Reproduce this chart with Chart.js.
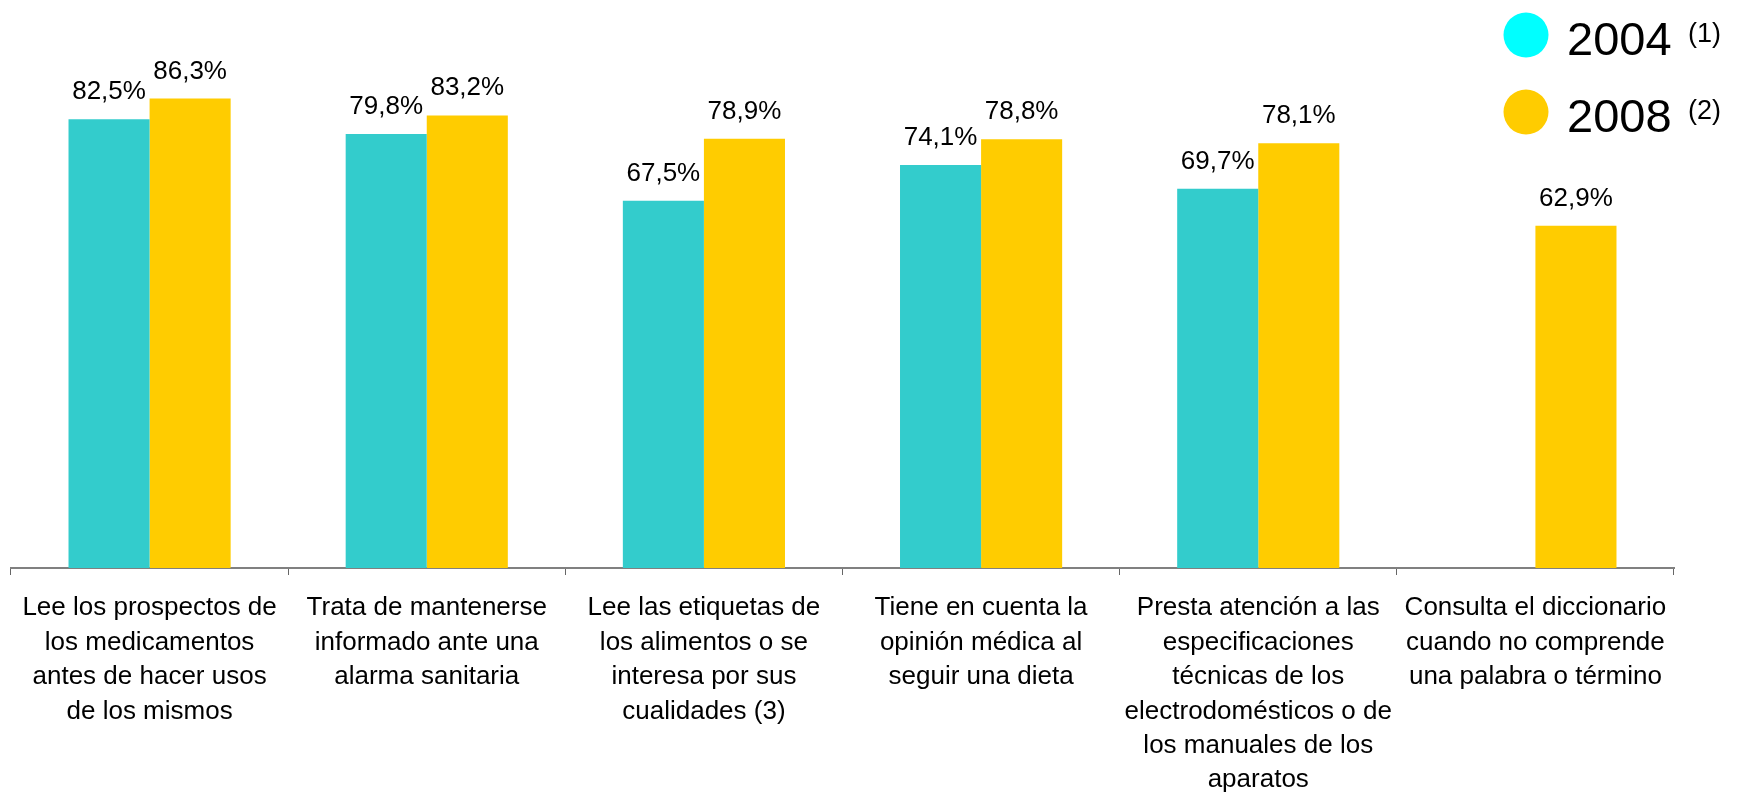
<!DOCTYPE html>
<html>
<head>
<meta charset="utf-8">
<script src="https://cdn.jsdelivr.net/npm/chart.js@4/dist/chart.umd.min.js"></script>
<style>
  body { margin: 0; background: #fff; }
</style>
</head>
<body>
<canvas id="habits-chart" width="1742" height="793"></canvas>
<script>
// categories, one array of lines per bar group
const categories = [
    ['Lee los prospectos de', 'los medicamentos', 'antes de hacer usos', 'de los mismos'],
    ['Trata de mantenerse', 'informado ante una', 'alarma sanitaria'],
    ['Lee las etiquetas de', 'los alimentos o se', 'interesa por sus', 'cualidades (3)'],
    ['Tiene en cuenta la', 'opinión médica al', 'seguir una dieta'],
    ['Presta atención a las', 'especificaciones', 'técnicas de los', 'electrodomésticos o de', 'los manuales de los', 'aparatos'],
    ['Consulta el diccionario', 'cuando no comprende', 'una palabra o término'],
];
const values2004 = [82.5, 79.8, 67.5, 74.1, 69.7, null];
const values2008 = [86.3, 83.2, 78.9, 78.8, 78.1, 62.9];
const seriesLabels = ['2004', '2008'];
const seriesNotes = ['(1)', '(2)'];

Chart.defaults.font.family = "'Liberation Sans', Arial, sans-serif";
Chart.defaults.color = '#000';

const fmt = v => v.toFixed(1).replace('.', ',') + '%';

// value labels above each bar
const valueLabels = {
    id: 'valueLabels',
    afterDatasetsDraw(chart) {
        const ctx = chart.ctx;
        ctx.save();
        ctx.font = "26px 'Liberation Sans', Arial, sans-serif";
        ctx.fillStyle = '#000';
        ctx.textAlign = 'center';
        ctx.textBaseline = 'alphabetic';
        chart.data.datasets.forEach((ds, i) => {
            chart.getDatasetMeta(i).data.forEach((bar, j) => {
                const v = ds.data[j];
                if (v === null || v === undefined) return;
                ctx.fillText(fmt(v), bar.x, bar.y - 20);
            });
        });
        ctx.restore();
    }
};

// legend with round markers and footnote marks
const dotLegend = {
    id: 'dotLegend',
    afterDraw(chart, args, opts) {
        const ctx = chart.ctx;
        ctx.save();
        chart.data.datasets.forEach((ds, i) => {
            const cy = 35 + i * 77;
            ctx.fillStyle = opts.colors[i];
            ctx.beginPath();
            ctx.arc(1526, cy, 22.5, 0, Math.PI * 2);
            ctx.fill();
            ctx.fillStyle = '#000';
            ctx.textAlign = 'left';
            ctx.textBaseline = 'alphabetic';
            ctx.font = "47px 'Liberation Sans', Arial, sans-serif";
            ctx.fillText(ds.label, 1567, cy + 20);
            ctx.font = "27px 'Liberation Sans', Arial, sans-serif";
            ctx.fillText(seriesNotes[i], 1688, cy + 7);
        });
        ctx.restore();
    }
};

const ctx = document.getElementById('habits-chart').getContext('2d');
new Chart(ctx, {
    type: 'bar',
    data: {
        labels: categories,
        datasets: [
            {
                label: seriesLabels[0],
                data: values2004,
                backgroundColor: '#33CCCC',
                borderWidth: 0,
                barPercentage: 1,
                categoryPercentage: 0.585,
            },
            {
                label: seriesLabels[1],
                data: values2008,
                backgroundColor: '#FFCC00',
                borderWidth: 0,
                barPercentage: 1,
                categoryPercentage: 0.585,
            },
        ],
    },
    options: {
        responsive: false,
        animation: false,
        layout: {
            padding: { top: 24, left: 11, right: 68, bottom: 0 },
        },
        scales: {
            x: {
                grid: {
                    display: true,
                    drawOnChartArea: false,
                    drawTicks: true,
                    tickLength: 7,
                    offset: true,
                    color: '#666',
                    lineWidth: 1,
                },
                border: { display: true, color: '#808080', width: 2 },
                ticks: {
                    autoSkip: false,
                    maxRotation: 0,
                    minRotation: 0,
                    padding: 16,
                    color: '#000',
                    font: { size: 26, lineHeight: 1.323 },
                },
                afterFit: scale => { scale.height = 225; },
            },
            y: {
                display: false,
                min: 0,
                max: 100,
            },
        },
        plugins: {
            legend: { display: false },
            tooltip: { enabled: false },
            dotLegend: { colors: ['#00FFFF', '#FFCC00'] },
        },
    },
    plugins: [valueLabels, dotLegend],
});
</script>
</body>
</html>
